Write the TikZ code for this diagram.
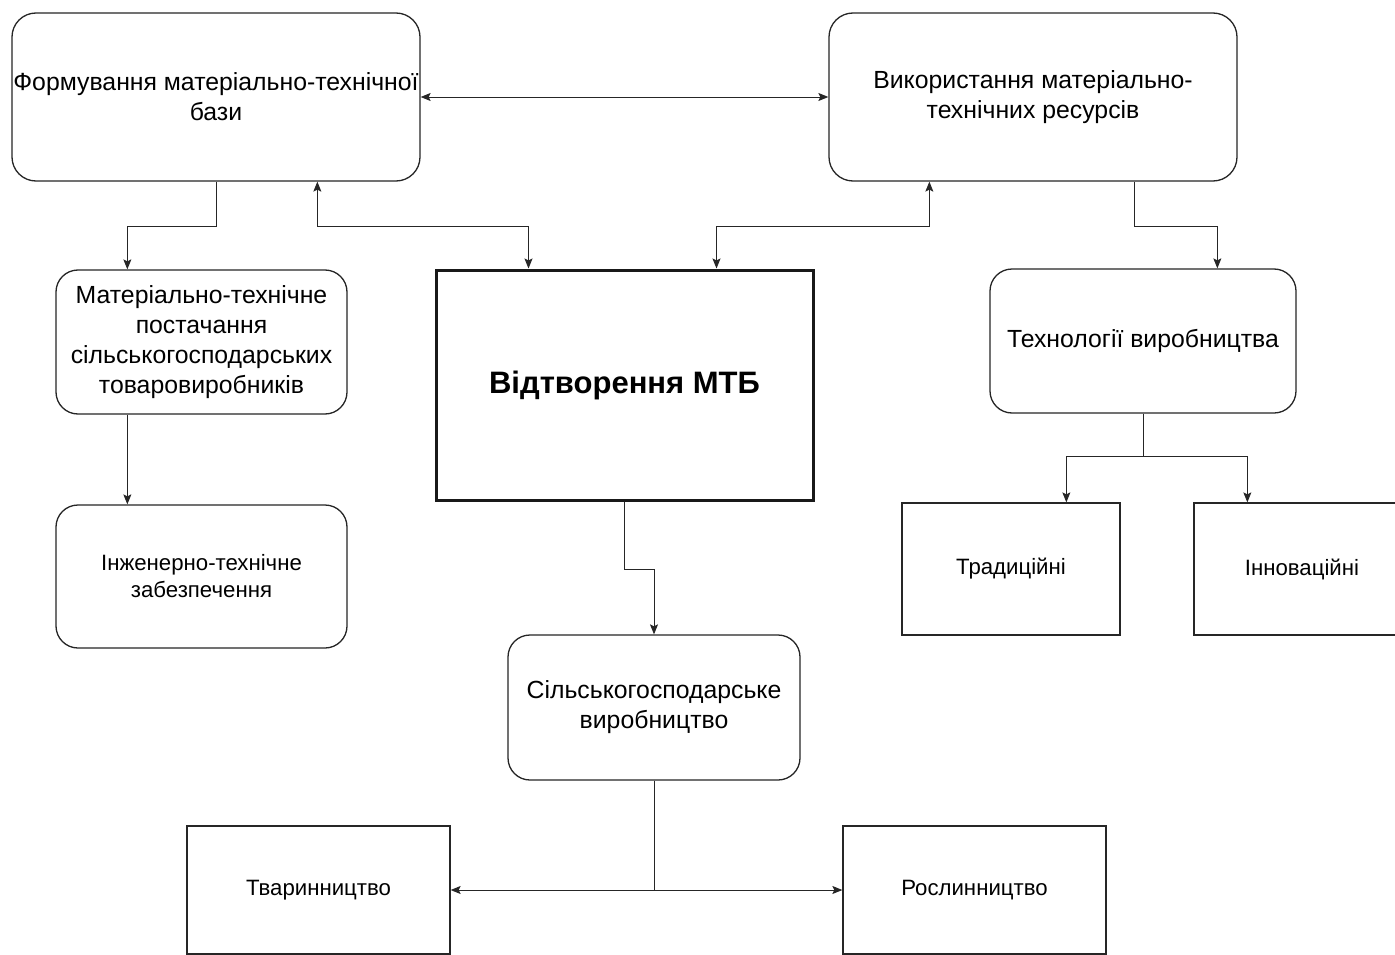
\documentclass[tikz,border=0pt]{standalone}
\usepackage{fontspec}
\setmainfont{Liberation Sans}
\usetikzlibrary{arrows.meta,calc}
\begin{document}
\begin{tikzpicture}[x=1pt,y=-1pt,
  rbox/.style={draw=black!85,line width=1.3pt,rounded corners=24pt,align=center,inner sep=0pt,font=\fontsize{24.8}{30}\selectfont},
  sbox/.style={draw=black!85,line width=1.3pt,align=center,inner sep=0pt,font=\fontsize{22.2}{27}\selectfont},
  conn/.style={draw=black!85,line width=0.9pt},
  tip/.style={-{Stealth[length=10pt,width=8pt,inset=2pt]}},
  tips/.style={{Stealth[length=10pt,width=8pt,inset=2pt]}-{Stealth[length=10pt,width=8pt,inset=2pt]}}]
\clip (0,0) rectangle (1395,955);
\fill[white] (0,0) rectangle (1395,955);
\node[rbox,minimum width=408pt,minimum height=168pt] (A) at (216,97) {Формування матеріально-технічної\\бази};
\node[rbox,minimum width=408pt,minimum height=168pt] (B) at (1033,97) {Використання матеріально-\\технічних ресурсів};
\node[rbox,rounded corners=22pt,minimum width=291pt,minimum height=144pt] (C) at (201.5,342) {Матеріально-технічне\\постачання\\сільськогосподарських\\товаровиробників};
\node[draw=black!90,line width=3pt,align=center,inner sep=0pt,minimum width=377pt,minimum height=230pt,font=\fontsize{31}{36}\selectfont\bfseries] (D) at (624.5,385) {Відтворення МТБ};
\node[rbox,rounded corners=22pt,minimum width=306pt,minimum height=144pt] (E) at (1143,341) {Технології виробництва};
\node[rbox,rounded corners=22pt,minimum width=291pt,minimum height=143pt,font=\fontsize{22.2}{27}\selectfont] (F) at (201.5,576.5) {Інженерно-технічне\\забезпечення};
\node[sbox,minimum width=218pt,minimum height=132pt] (G) at (1011,569) {Традиційні};
\node[sbox,minimum width=216pt,minimum height=132pt] (H) at (1302,569) {Інноваційні};
\node[rbox,rounded corners=22pt,minimum width=292pt,minimum height=145pt] (I) at (654,707.5) {Сільськогосподарське\\виробництво};
\node[sbox,minimum width=263pt,minimum height=128pt] (J) at (318.5,890) {Тваринництво};
\node[sbox,minimum width=263pt,minimum height=128pt] (K) at (974.5,890) {Рослинництво};
% connectors
\draw[conn,tips] (A.east) -- (B.west);
\draw[conn,tip] (A.south) -- ++(0,45) -| ([xshift=72pt]C.north west);
\draw[conn,tips] ([xshift=306pt]A.south west) -- ++(0,45) -| ([xshift=94pt]D.north west);
\draw[conn,tips] ([xshift=101pt]B.south west) -- ++(0,45) -| ([xshift=282pt]D.north west);
\draw[conn,tip] ([xshift=306pt]B.south west) -- ++(0,45) -| ([xshift=228pt]E.north west);
\draw[conn,tip] ([xshift=72pt]C.south west) -- ([xshift=72pt]F.north west);
\draw[conn,tip] (E.south) -- ++(0,43) -| ([xshift=165pt]G.north west);
\draw[conn,tip] (E.south) -- ++(0,43) -| ([xshift=54pt]H.north west);
\draw[conn,tip] (D.south) -- ++(0,68) -| (I.north);
\draw[conn,tip] (I.south) |- (J.east);
\draw[conn,tip] (I.south) |- (K.west);
\end{tikzpicture}
\end{document}
